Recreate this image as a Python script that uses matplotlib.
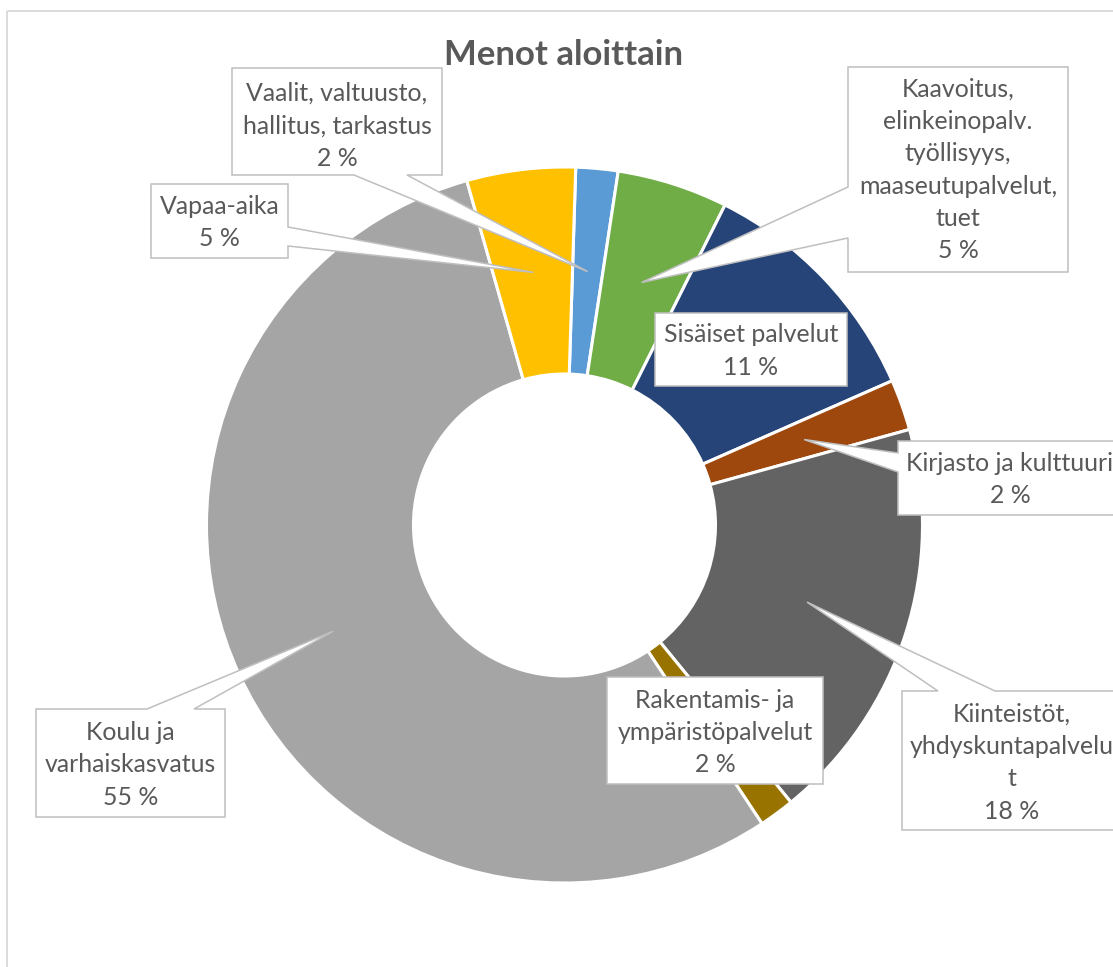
import matplotlib
matplotlib.use("Agg")
import matplotlib.pyplot as plt
from matplotlib.patches import Polygon
import numpy as np

# ---------------- data ----------------
categories = [
    "Vaalit, valtuusto, hallitus, tarkastus",
    "Kaavoitus, elinkeinopalv. työllisyys, maaseutupalvelut, tuet",
    "Sisäiset palvelut",
    "Kirjasto ja kulttuuri",
    "Kiinteistöt, yhdyskuntapalvelut",
    "Rakentamis- ja ympäristöpalvelut",
    "Koulu ja varhaiskasvatus",
    "Vapaa-aika",
]
values = [1.9, 5.0, 11.0, 2.3, 18.4, 1.6, 54.9, 4.9]
label_lines = [
    ["Vaalit, valtuusto,", "hallitus, tarkastus"],
    ["Kaavoitus,", "elinkeinopalv.", "työllisyys,", "maaseutupalvelut,", "tuet"],
    ["Sisäiset palvelut"],
    ["Kirjasto ja kulttuuri"],
    ["Kiinteistöt,", "yhdyskuntapalvelu", "t"],
    ["Rakentamis- ja", "ympäristöpalvelut"],
    ["Koulu ja", "varhaiskasvatus"],
    ["Vapaa-aika"],
]
colors = ["#5B9BD5", "#70AD47", "#264478", "#9E480E",
          "#636363", "#997300", "#A5A5A5", "#FFC000"]
title = "Menot aloittain"

# ---------------- layout (pixel coords, y down) ----------------
W, H = 1113, 967
CX, CY = 564.5, 525
R_OUT, R_IN = 358, 151
START = 88.2

# box: (x0, y0, x1, y1), text center x, first baseline, pointer spec
boxes = [
    dict(box=(232, 68, 442, 175), cx=337, base=101, ptr=("bottom", 354, 407)),
    dict(box=(848, 67, 1068, 272), cx=958, base=96.5, ptr=("left", 187, 238)),
    dict(box=(655, 313, 847, 386), cx=751, base=342.5, ptr=None),
    dict(box=(898, 441, 1125, 515), cx=1010, base=471, ptr=("left", 453, 472)),
    dict(box=(902, 691, 1125, 830), cx=1012, base=721.5, ptr=("top", 938, 995)),
    dict(box=(607, 677, 823, 784), cx=715, base=707.5, ptr=None),
    dict(box=(36, 709, 225, 817), cx=130.5, base=740, ptr=("top", 147, 194)),
    dict(box=(151, 184, 288, 258), cx=219.5, base=214, ptr=("right", 227, 246)),
]
LINE = 32.4

TEXT_COLOR = "#595959"
EDGE = "#BFBFBF"
FONT = "Lato"

fig = plt.figure(figsize=(W / 100, H / 100), dpi=100)
ax = fig.add_axes([0, 0, 1, 1])

def Y(y):
    return H - y

wedges, _ = ax.pie(values, colors=colors, startangle=START, counterclock=False,
                   center=(CX, Y(CY)), radius=R_OUT,
                   wedgeprops=dict(width=R_OUT - R_IN, edgecolor="white", linewidth=2.2))

ax.set_xlim(0, W)
ax.set_ylim(0, H)
ax.set_aspect("equal", adjustable="box")
ax.set_position([0, 0, 1, 1])
ax.axis("off")

# frame of chart area
ax.plot([7, 7], [Y(10.5), Y(H + 5)], color="#D9D9D9", lw=1.3, solid_capstyle="butt")
ax.plot([7, W + 5], [Y(10.5), Y(10.5)], color="#D9D9D9", lw=1.3, solid_capstyle="butt")

# fit font sizes to measured widths
renderer = fig.canvas.get_renderer()
def fit_size(s, target, weight="normal"):
    t = ax.text(0, 0, s, fontsize=10, family=FONT, weight=weight)
    w = t.get_window_extent(renderer).width
    t.remove()
    return 10 * target / w

fs = fit_size("Vaalit, valtuusto,", 181)
fs_title = fit_size(title, 239, "bold")

ax.text(563.5, Y(65), title, ha="center", va="baseline", fontsize=fs_title,
        weight="bold", color=TEXT_COLOR, family=FONT)

r_mid = (R_OUT + R_IN) / 2
for w, v, lines, spec in zip(wedges, values, label_lines, boxes):
    mid = np.deg2rad((w.theta1 + w.theta2) / 2)
    tip = (w.center[0] + r_mid * np.cos(mid), w.center[1] + r_mid * np.sin(mid))
    x0, y0, x1, y1 = spec["box"]
    ptr = spec["ptr"]
    verts = [(x0, y0)]
    if ptr and ptr[0] == "top":
        verts += [(ptr[1], y0), "TIP", (ptr[2], y0)]
    verts += [(x1, y0)]
    if ptr and ptr[0] == "right":
        verts += [(x1, ptr[1]), "TIP", (x1, ptr[2])]
    verts += [(x1, y1)]
    if ptr and ptr[0] == "bottom":
        verts += [(ptr[2], y1), "TIP", (ptr[1], y1)]
    verts += [(x0, y1)]
    if ptr and ptr[0] == "left":
        verts += [(x0, ptr[2]), "TIP", (x0, ptr[1])]
    pts = [tip if p == "TIP" else (p[0], Y(p[1])) for p in verts]
    ax.add_patch(Polygon(pts, closed=True, facecolor="white", edgecolor=EDGE,
                         lw=1.1, zorder=5, joinstyle="miter"))
    all_lines = lines + [f"{round(v)} %"]
    for i, s in enumerate(all_lines):
        ax.text(spec["cx"], Y(spec["base"] + i * LINE), s, ha="center", va="baseline",
                fontsize=fs, color=TEXT_COLOR, family=FONT, zorder=6)

fig.savefig("out.png", dpi=100)
